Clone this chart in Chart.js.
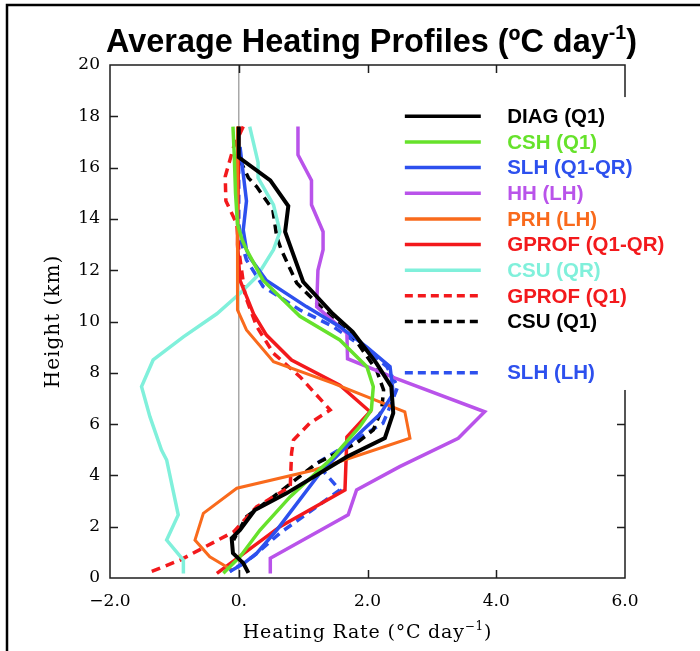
<!DOCTYPE html>
<html>
<head>
<meta charset="utf-8">
<script src="https://cdn.jsdelivr.net/npm/chart.js@4.4.1/dist/chart.umd.min.js"></script>
<style>
  html, body { margin: 0; padding: 0; background: #fff; }
  #wrap { width: 700px; height: 651px; position: relative; }
</style>
</head>
<body>
<div id="wrap"><canvas id="profiles" width="700" height="651"></canvas></div>
<script>
// Heights (km) and heating rates (°C/day) for each profile, listed top to bottom
const DIAG_Q1_KM   = [17.6, 16.4, 15.5, 14.5, 13.5, 12.8, 11.55, 10.3, 9.6, 8.37, 7.46, 6.43, 5.46, 4.73, 3.3, 2.65, 1.87, 1.55, 0.97, 0.58, 0.2];
const DIAG_Q1_RATE = [0.0, 0.0, 0.49, 0.77, 0.72, 0.82, 1.0, 1.46, 1.77, 2.14, 2.37, 2.4, 2.27, 1.68, 0.74, 0.25, 0.02, -0.11, -0.09, 0.07, 0.15];

const CSH_Q1_KM   = [17.6, 16.5, 15.0, 13.8, 13.2, 12.8, 11.6, 10.2, 9.28, 8.24, 7.46, 6.55, 5.9, 4.73, 3.17, 1.87, 0.83, 0.19];
const CSH_Q1_RATE = [-0.09, -0.07, -0.05, -0.02, 0.05, 0.12, 0.38, 0.95, 1.57, 1.99, 2.09, 2.06, 1.88, 1.47, 0.8, 0.33, 0.02, -0.24];

const SLH_Q1QR_KM   = [16.8, 14.7, 13.57, 12.8, 12.5, 11.6, 10.58, 9.8, 9.0, 8.24, 7.2, 6.4, 5.77, 4.09, 1.87, 0.97, 0.55, 0.25];
const SLH_Q1QR_RATE = [0.02, 0.12, 0.07, 0.12, 0.17, 0.43, 1.05, 1.57, 1.99, 2.35, 2.4, 2.2, 1.93, 1.26, 0.59, 0.28, 0.07, -0.14];

const HH_LH_KM   = [17.6, 16.5, 15.5, 14.55, 13.5, 12.8, 12.0, 10.58, 9.54, 8.55, 7.79, 6.48, 5.45, 4.34, 3.43, 2.46, 0.77, 0.18];
const HH_LH_RATE = [0.92, 0.92, 1.13, 1.13, 1.31, 1.31, 1.23, 1.21, 1.68, 1.69, 2.43, 3.82, 3.41, 2.5, 1.83, 1.7, 0.49, 0.49];

const PRH_LH_KM   = [17.6, 10.45, 9.67, 8.43, 7.59, 6.48, 5.45, 4.2, 3.5, 2.52, 1.48, 0.83, 0.44, 0.3];
const PRH_LH_RATE = [-0.02, -0.02, 0.12, 0.54, 1.47, 2.58, 2.66, 1.16, -0.03, -0.55, -0.68, -0.45, -0.19, -0.1];

const GPROF_Q1QR_KM   = [17.6, 13.0, 11.6, 10.3, 9.47, 8.5, 7.52, 6.48, 5.5, 3.43, 2.0, 0.18];
const GPROF_Q1QR_RATE = [0.0, -0.02, 0.02, 0.23, 0.43, 0.82, 1.57, 2.04, 1.68, 1.65, 0.64, -0.34];

const CSU_QR_KM   = [17.6, 16.2, 15.6, 14.55, 13.5, 12.8, 11.75, 11.1, 10.3, 9.4, 8.5, 7.46, 6.29, 4.99, 4.6, 2.46, 1.48, 0.7, 0.18];
const CSU_QR_RATE = [0.17, 0.3, 0.3, 0.54, 0.64, 0.54, 0.28, 0.02, -0.34, -0.86, -1.33, -1.51, -1.38, -1.2, -1.12, -0.94, -1.12, -0.86, -0.86];

const GPROF_Q1_KM   = [17.6, 16.8, 15.65, 14.7, 13.8, 12.8, 11.0, 9.8, 8.76, 7.85, 6.55, 6.03, 5.38, 4.86, 3.56, 2.78, 1.8, 0.7, 0.18];
const GPROF_Q1_RATE = [0.07, -0.08, -0.21, -0.2, -0.03, 0.0, 0.1, 0.28, 0.54, 0.95, 1.42, 1.1, 0.85, 0.82, 0.8, 0.28, -0.08, -0.91, -1.43];

const CSU_Q1_KM   = [16.3, 15.6, 15.25, 14.35, 13.3, 12.8, 11.5, 10.2, 9.4, 8.1, 7.33, 6.55, 5.77, 5.26, 4.47, 3.17, 2.39, 1.48];
const CSU_Q1_RATE = [0.02, 0.15, 0.28, 0.53, 0.59, 0.66, 0.9, 1.42, 1.78, 2.14, 2.25, 2.22, 2.09, 1.83, 1.21, 0.54, 0.12, -0.08];

const SLH_LH_KM   = [16.7, 15.0, 13.8, 13.0, 12.4, 11.36, 10.45, 9.8, 9.0, 8.24, 7.46, 6.68, 6.03, 5.26, 4.47, 3.43, 1.75, 0.83, 0.25];
const SLH_LH_RATE = [0.0, 0.0, 0.0, 0.05, 0.12, 0.38, 0.95, 1.47, 1.93, 2.3, 2.47, 2.35, 2.24, 1.73, 1.21, 1.57, 0.64, 0.22, -0.14];

const X_TICKS = [-2, 0, 2, 4, 6];
const Y_TICKS = [0, 2, 4, 6, 8, 10, 12, 14, 16, 18, 20];

// Legend rows sit at these heights (km); the last entry is set apart
const LEGEND_ROWS_KM = [18, 17, 16, 15, 14, 13, 12, 11, 10, 8];

const SERIF = '"DejaVu Serif", "Liberation Serif", serif';
const SANS = '"Liberation Sans", Arial, sans-serif';

function pairs(km, rate) {
  return km.map((h, i) => ({ x: rate[i], y: h }));
}

function profile(label, km, rate, color, dashed, width) {
  return {
    label,
    data: pairs(km, rate),
    showLine: true,
    borderColor: color,
    backgroundColor: color,
    borderWidth: width || 3.5,
    borderDash: dashed ? [9, 6] : [],
    pointRadius: 0,
    pointHoverRadius: 0,
    tension: 0,
    fill: false
  };
}

const datasets = [
  profile('DIAG (Q1)', DIAG_Q1_KM, DIAG_Q1_RATE, '#000000', false, 4),
  profile('CSH (Q1)', CSH_Q1_KM, CSH_Q1_RATE, '#66e22b', false),
  profile('SLH (Q1-QR)', SLH_Q1QR_KM, SLH_Q1QR_RATE, '#2d50ee', false),
  profile('HH (LH)', HH_LH_KM, HH_LH_RATE, '#b953ea', false),
  profile('PRH (LH)', PRH_LH_KM, PRH_LH_RATE, '#f96a1c', false, 3),
  profile('GPROF (Q1-QR)', GPROF_Q1QR_KM, GPROF_Q1QR_RATE, '#f3191c', false),
  profile('CSU (QR)', CSU_QR_KM, CSU_QR_RATE, '#80f0db', false),
  profile('GPROF (Q1)', GPROF_Q1_KM, GPROF_Q1_RATE, '#f3191c', true),
  profile('CSU (Q1)', CSU_Q1_KM, CSU_Q1_RATE, '#000000', true),
  profile('SLH (LH)', SLH_LH_KM, SLH_LH_RATE, '#2d50ee', true)
];

// Spaced text drawing (canvas letterSpacing where available)
function spacedText(ctx, text, x, y, spacing) {
  if ('letterSpacing' in ctx) {
    ctx.letterSpacing = spacing + 'px';
    ctx.fillText(text, x, y);
    ctx.letterSpacing = '0px';
  } else {
    ctx.fillText(text, x, y);
  }
}
function spacedWidth(ctx, text, spacing) {
  return ctx.measureText(text).width + ('letterSpacing' in ctx ? spacing * text.length : 0);
}

// Frame with inward ticks, the legend panel and the legend entries
const framePlugin = {
  id: 'framePlugin',
  beforeDatasetsDraw(chart) {
    const { ctx, chartArea: a, scales: { x, y } } = chart;
    ctx.save();
    ctx.setLineDash([]);
    ctx.strokeStyle = '#1e1e1e';
    ctx.lineWidth = 1.5;
    ctx.strokeRect(a.left, a.top, a.right - a.left, a.bottom - a.top);
    ctx.beginPath();
    X_TICKS.forEach(v => {
      const px = Math.round(x.getPixelForValue(v)) + 0.5;
      if (px <= a.left + 2 || px >= a.right - 2) return;
      ctx.moveTo(px, a.bottom); ctx.lineTo(px, a.bottom - 8);
      ctx.moveTo(px, a.top); ctx.lineTo(px, a.top + 8);
    });
    Y_TICKS.forEach(v => {
      const py = Math.round(y.getPixelForValue(v)) + 0.5;
      if (py <= a.top + 2 || py >= a.bottom - 2) return;
      ctx.moveTo(a.left, py); ctx.lineTo(a.left + 8, py);
      ctx.moveTo(a.right, py); ctx.lineTo(a.right - 8, py);
    });
    ctx.stroke();

    // legend panel, laid over the upper right of the frame
    const panelL = x.getPixelForValue(2.5);
    const panelT = y.getPixelForValue(18.75);
    const panelB = y.getPixelForValue(7.33);
    ctx.fillStyle = '#ffffff';
    ctx.fillRect(panelL, panelT, chart.width - panelL, panelB - panelT);
    ctx.restore();
  },
  afterDatasetsDraw(chart) {
    const { ctx, scales: { x, y } } = chart;
    ctx.save();
    const x0 = x.getPixelForValue(2.58);
    const x1 = x.getPixelForValue(3.76);
    const xt = x.getPixelForValue(4.17);
    ctx.font = 'bold 20.5px ' + SANS;
    ctx.textBaseline = 'middle';
    ctx.textAlign = 'left';
    chart.data.datasets.forEach((ds, i) => {
      const py = y.getPixelForValue(LEGEND_ROWS_KM[i]);
      ctx.strokeStyle = ds.borderColor;
      ctx.lineWidth = 3.5;
      ctx.setLineDash(ds.borderDash.length ? [8, 5] : []);
      ctx.beginPath();
      ctx.moveTo(x0, py); ctx.lineTo(x1, py);
      ctx.stroke();
      ctx.fillStyle = ds.borderColor;
      ctx.fillText(ds.label, xt, py + 1);
    });
    ctx.restore();
  },
  afterDraw(chart) {
    const { ctx, chartArea: a } = chart;
    ctx.save();
    // outer border
    ctx.strokeStyle = '#000';
    ctx.lineWidth = 2.5;
    ctx.beginPath();
    ctx.moveTo(7, chart.height); ctx.lineTo(7, 5); ctx.lineTo(chart.width, 5);
    ctx.stroke();

    // title
    const main = 'Average Heating Profiles (ºC day';
    const sup = '-1';
    const tail = ')';
    const bigFont = 'bold 33px ' + SANS;
    const supFont = 'bold 20px ' + SANS;
    ctx.font = bigFont;
    const wMain = ctx.measureText(main).width;
    const wTail = ctx.measureText(tail).width;
    ctx.font = supFont;
    const wSup = ctx.measureText(sup).width;
    const total = wMain + wSup + wTail;
    const sx = 531 / total;
    ctx.translate(106, 52);
    ctx.scale(sx, 1);
    ctx.fillStyle = '#000';
    ctx.textBaseline = 'alphabetic';
    ctx.textAlign = 'left';
    ctx.font = bigFont;
    ctx.fillText(main, 0, 0);
    ctx.font = supFont;
    ctx.fillText(sup, wMain, -13);
    ctx.font = bigFont;
    ctx.fillText(tail, wMain + wSup, 0);
    ctx.setTransform(1, 0, 0, 1, 0, 0);

    // x-axis title
    const xa = 'Heating Rate (°C day';
    const xs = '\u22121';
    const xe = ')';
    const f = '19px ' + SERIF;
    const fs = '12px ' + SERIF;
    const sp = 0.8;
    ctx.font = f;
    const w1 = spacedWidth(ctx, xa, sp);
    const w3 = spacedWidth(ctx, xe, sp);
    ctx.font = fs;
    const w2 = spacedWidth(ctx, xs, sp);
    const cx = (a.left + a.right) / 2;
    const sxp = cx - (w1 + w2 + w3) / 2;
    const base = 638;
    ctx.font = f; spacedText(ctx, xa, sxp, base, sp);
    ctx.font = fs; spacedText(ctx, xs, sxp + w1, base - 8, sp);
    ctx.font = f; spacedText(ctx, xe, sxp + w1 + w2, base, sp);

    // y-axis title
    ctx.translate(59, (a.top + a.bottom) / 2);
    ctx.rotate(-Math.PI / 2);
    ctx.font = '20px ' + SERIF;
    ctx.textAlign = 'left';
    ctx.textBaseline = 'alphabetic';
    const yt = 'Height (km)';
    const wy = spacedWidth(ctx, yt, 1);
    spacedText(ctx, yt, -wy / 2, 0, 1);
    ctx.restore();
  }
};

new Chart(document.getElementById('profiles'), {
  type: 'scatter',
  data: { datasets },
  options: {
    responsive: false,
    animation: false,
    devicePixelRatio: 1,
    layout: { padding: { top: 65, right: 75, left: 0, bottom: 0 } },
    plugins: {
      legend: { display: false },
      tooltip: { enabled: false },
      title: { display: false }
    },
    scales: {
      x: {
        type: 'linear',
        min: -2, max: 6,
        afterBuildTicks: s => { s.ticks = X_TICKS.map(v => ({ value: v })); },
        afterFit: s => { s.height = 73; },
        border: { display: false },
        grid: {
          drawTicks: false,
          lineWidth: 1.5,
          color: c => (c.tick && c.tick.value === 0) ? '#a8a8a8' : 'rgba(0,0,0,0)'
        },
        ticks: {
          color: '#000',
          padding: 13,
          maxRotation: 0,
          font: { family: SERIF, size: 17 },
          callback: v => v === 0 ? '0.' : (v < 0 ? '\u2212' : '') + Math.abs(v).toFixed(1)
        }
      },
      y: {
        type: 'linear',
        min: 0, max: 20,
        afterBuildTicks: s => { s.ticks = Y_TICKS.map(v => ({ value: v })); },
        afterFit: s => { s.width = 110; },
        border: { display: false },
        grid: { display: false, drawTicks: false },
        ticks: {
          color: '#000',
          padding: 10,
          font: { family: SERIF, size: 17 },
          callback: v => String(v)
        }
      }
    }
  },
  plugins: [framePlugin]
});
</script>
</body>
</html>
